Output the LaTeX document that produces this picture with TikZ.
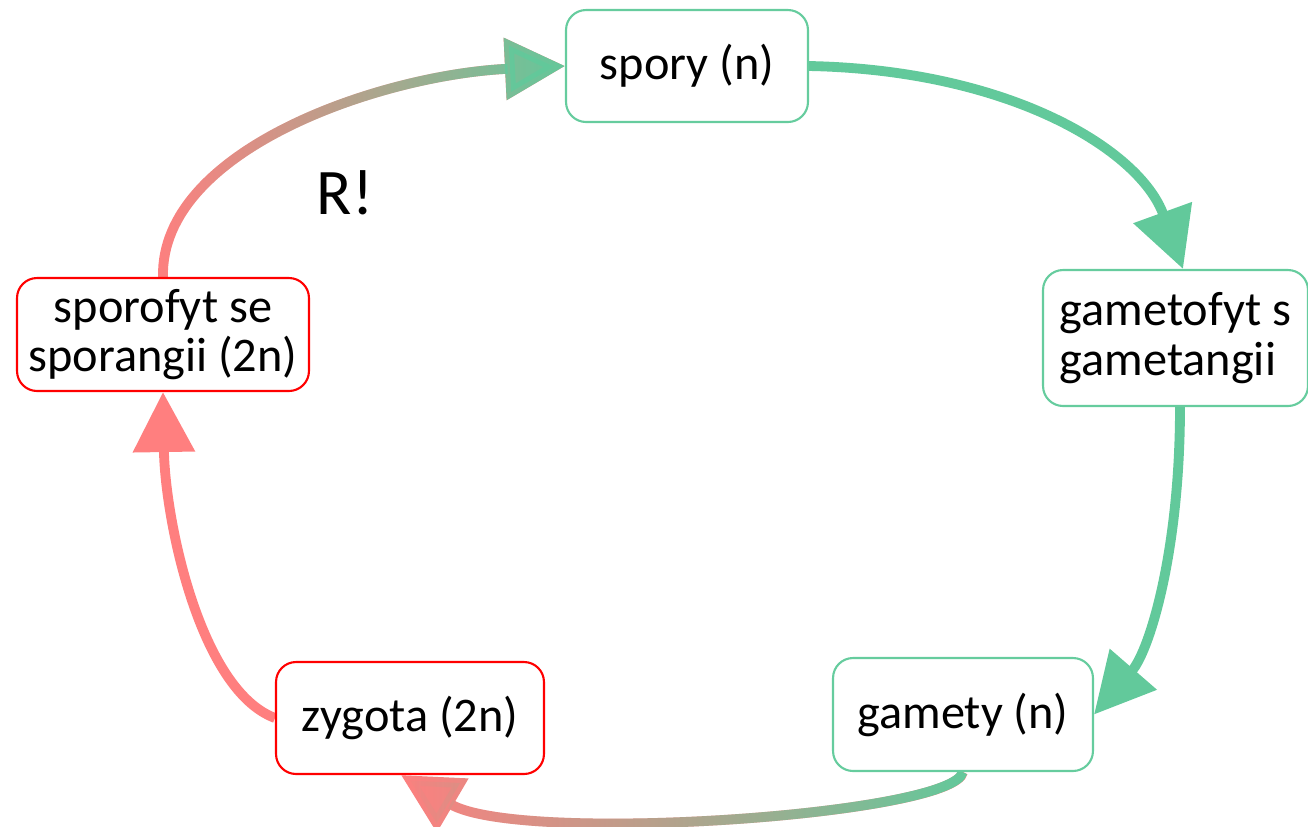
\documentclass[tikz,border=0pt]{standalone}
\usepackage{fontspec}
\setmainfont{Carlito}
\usetikzlibrary{arrows.meta,fadings,backgrounds}
\definecolor{leaf}{HTML}{62C99B}
\definecolor{leafline}{HTML}{66CC9E}
\definecolor{rose}{HTML}{FF7F7F}
\definecolor{alarm}{HTML}{FF0000}
\tikzfading[name=togreen, left color=transparent!100, right color=transparent!0]
\tikzset{
  stage/.style={draw, fill=white, rounded corners=0.4cm, line width=1.2pt, align=center,
    font=\fontsize{27.5pt}{28pt}\selectfont, inner sep=0pt},
  hap/.style={stage, draw=leafline},
  dip/.style={stage, draw=alarm},
  flow/.style={line width=5.6pt, -{Triangle[length=12mm,width=12mm]}},
}
\begin{document}
\begin{tikzpicture}[x=0.02cm, y=-0.02cm]
  \useasboundingbox (0,0) rectangle (1308,826);
  % life cycle stages
  \node[hap, minimum width=4.84cm, minimum height=2.24cm] (spory) at (687,66) {spory (n)};
  \node[hap, align=left, minimum width=5.3cm, minimum height=2.72cm] (gamet) at (1175.5,338) {gametofyt s\\gametangii};
  \node[hap, minimum width=5.2cm, minimum height=2.26cm] (gamety) at (963,714.5) {gamety (n)};
  \node[dip, minimum width=5.36cm, minimum height=2.24cm] (zygota) at (410,718) {zygota (2n)};
  \node[dip, minimum width=5.84cm, minimum height=2.26cm] (sporo) at (163,334.5) {sporofyt se\\sporangii (2n)};
  \node[font=\fontsize{37pt}{40pt}\selectfont] (note) at (345,193) {R!};
  \begin{pgfonlayer}{background}
    \draw[flow, leaf] (spory.east) .. controls (1010,70) and (1140,150) .. ([xshift=0.15cm]gamet.north);
    \draw[flow, leaf] ([xshift=0.09cm]gamet.south) .. controls (1180,550) and (1150,650) .. (gamety.east);
    % green to pink
    \draw[flow, rose] (gamety.south) .. controls (955,815) and (520,845) .. ([xshift=-0.18cm]zygota.south);
    \draw[flow, leaf, path fading=togreen] (gamety.south) .. controls (955,815) and (520,845) .. ([xshift=-0.18cm]zygota.south);
    \draw[flow, rose] (zygota.west) .. controls (200,690) and (165,520) .. (sporo.south);
    % pink to green
    \draw[flow, rose] (sporo.north) .. controls (160,150) and (380,75) .. (spory.west);
    \draw[flow, leaf, path fading=togreen] (sporo.north) .. controls (160,150) and (380,75) .. (spory.west);
  \end{pgfonlayer}
\end{tikzpicture}
\end{document}
